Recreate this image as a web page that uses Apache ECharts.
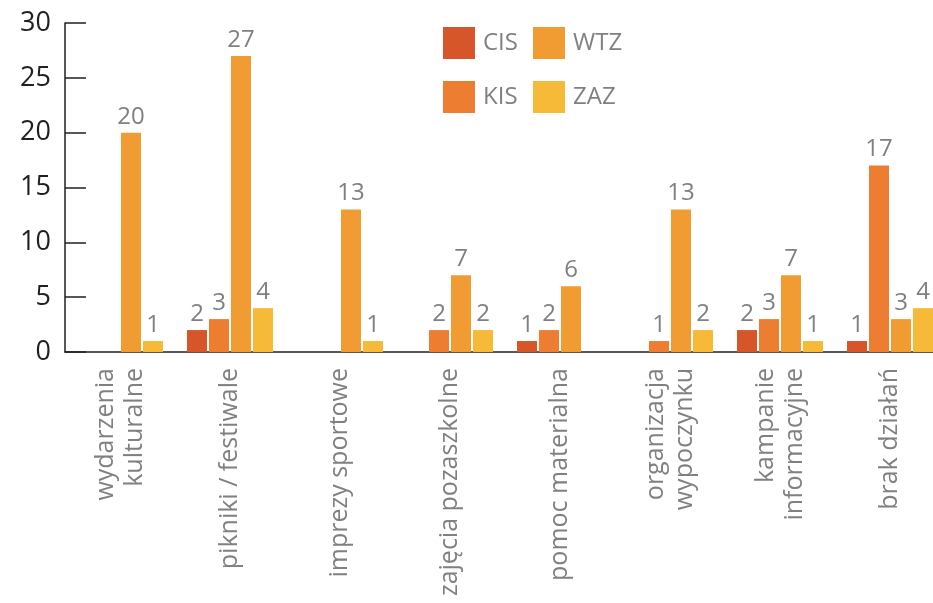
<!DOCTYPE html>
<html>
<head>
<meta charset="utf-8">
<script src="https://cdn.jsdelivr.net/npm/echarts@6/dist/echarts.min.js"></script>
<style>
  html, body { margin: 0; padding: 0; background: #fff; }
  #chart { width: 933px; height: 603px; }
</style>
</head>
<body>
<div id="chart"></div>
<script>
// dane
var categories = ['wydarzenia\nkulturalne', 'pikniki / festiwale', 'imprezy sportowe', 'zajęcia pozaszkolne',
  'pomoc materialna', 'organizacja\nwypoczynku', 'kampanie\ninformacyjne', 'brak działań'];
var seriesNames = ['CIS', 'KIS', 'WTZ', 'ZAZ'];
var cis = [0, 2, 0, 0, 1, 0, 2, 1];
var kis = [0, 3, 0, 2, 2, 1, 3, 17];
var wtz = [20, 27, 13, 7, 6, 13, 7, 3];
var zaz = [1, 4, 1, 2, 0, 2, 1, 4];
var yTicks = [0, 5, 10, 15, 20, 25, 30];

var colors = ['#d6562a', '#ed7d31', '#f19c33', '#f6ba38'];
var values = [cis, kis, wtz, zaz];
var font = '"Open Sans", sans-serif';

var chart = echarts.init(document.getElementById('chart'));

var series = seriesNames.map(function (name, i) {
  return {
    name: name,
    type: 'bar',
    data: values[i],
    barWidth: 20,
    barGap: '10%',
    itemStyle: { color: colors[i] },
    label: {
      show: true,
      position: 'top',
      distance: 4,
      color: '#808080',
      fontSize: 24,
      fontFamily: font,
      formatter: function (p) { return p.value === 0 ? '' : p.value; }
    }
  };
});

var legendText = { color: '#808080', fontSize: 24, fontFamily: font, padding: [0, 0, 0, 3] };

var option = {
  animation: false,
  legend: [
    {
      data: ['CIS', 'KIS'], orient: 'vertical', left: 438, top: 22,
      itemWidth: 32, itemHeight: 32, itemGap: 22, icon: 'rect', textStyle: legendText
    },
    {
      data: ['WTZ', 'ZAZ'], orient: 'vertical', left: 528, top: 22,
      itemWidth: 32, itemHeight: 32, itemGap: 22, icon: 'rect', textStyle: legendText
    }
  ],
  grid: { left: 65, top: 23, bottom: 251, width: 880, outerBoundsMode: 'none', containLabel: false },
  xAxis: {
    type: 'category',
    data: categories,
    axisLine: { lineStyle: { color: '#231f20', width: 1.5 } },
    axisTick: { inside: true, length: 7, lineStyle: { color: '#231f20', width: 1.5 } },
    axisLabel: {
      interval: 0,
      rotate: 90,
      margin: 16,
      color: '#808080',
      fontSize: 25,
      lineHeight: 29,
      fontFamily: font
    }
  },
  yAxis: {
    type: 'value',
    min: yTicks[0],
    max: yTicks[yTicks.length - 1],
    interval: 5,
    splitLine: { show: false },
    axisLine: { show: true, lineStyle: { color: '#231f20', width: 1.5 } },
    axisTick: { show: true, inside: true, length: 21, lineStyle: { color: '#231f20', width: 1.5 } },
    axisLabel: { margin: 14, color: '#231f20', fontSize: 27, fontFamily: font }
  },
  series: series
};

chart.setOption(option);
</script>
</body>
</html>
